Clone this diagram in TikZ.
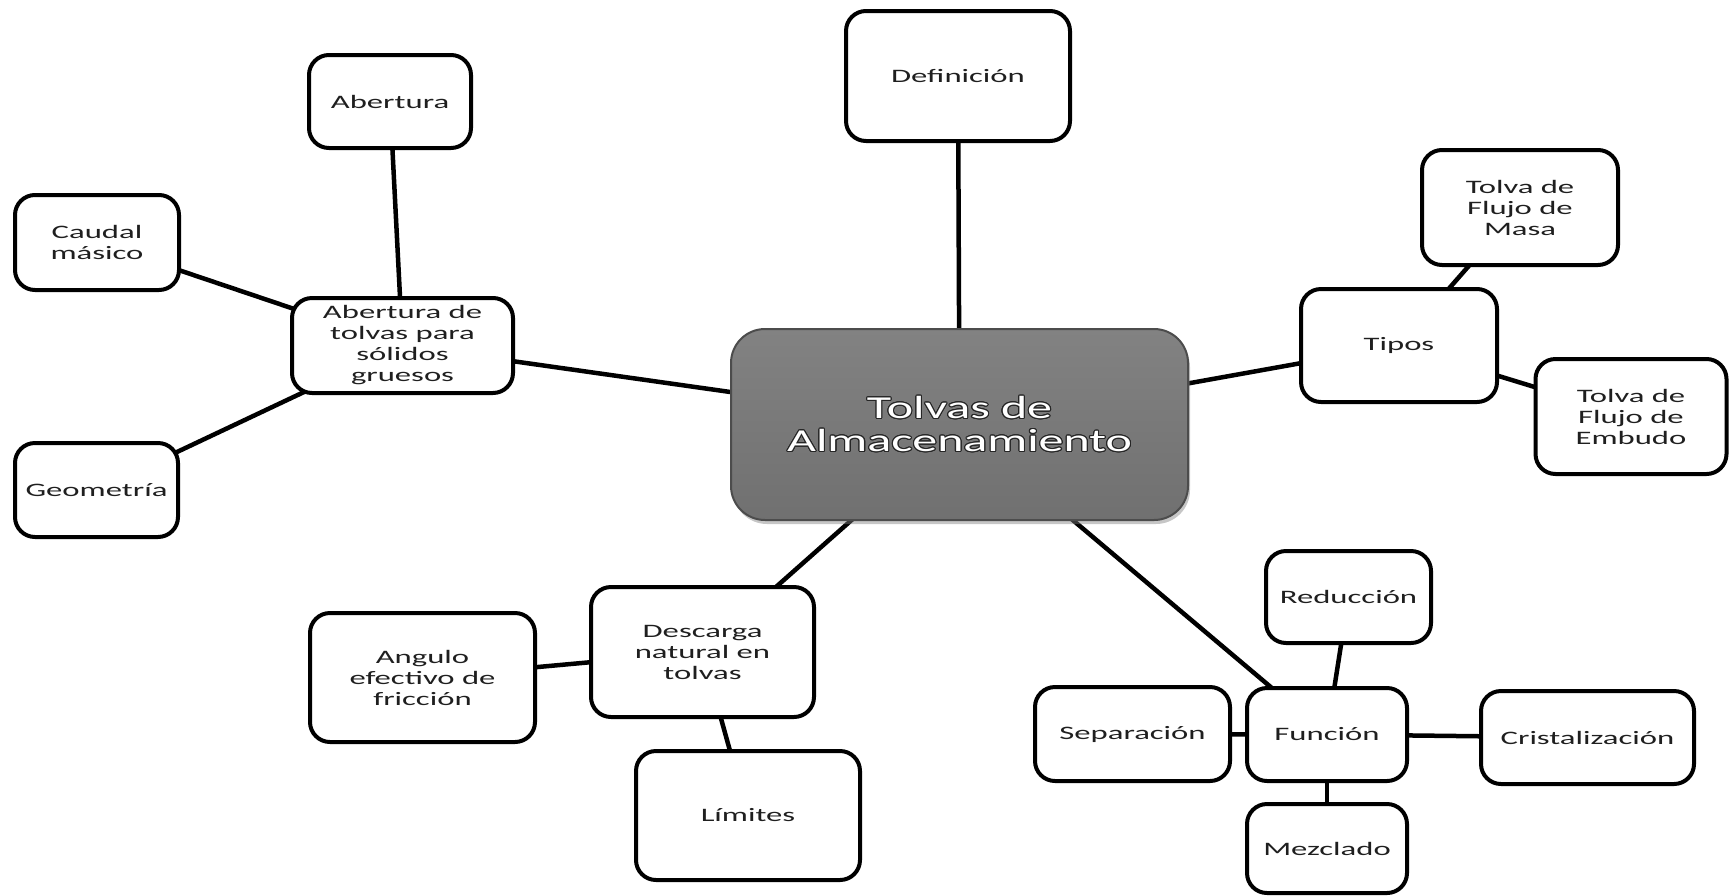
\documentclass[tikz,border=0pt]{standalone}
\usepackage{fontspec}
\setmainfont{Carlito}[FakeStretch=1.72]
\newfontfamily\titlefont{Carlito}[FakeStretch=1.56]
\usepackage[copies]{contour}
\contourlength{1.1pt}
\usetikzlibrary{shadows,backgrounds}

\tikzset{
  box/.style={draw=black, line width=4pt, fill=white, rounded corners=20pt,
    inner sep=0pt, align=center, text=black!88,
    font=\fontsize{19}{21}\selectfont},
  hub/.style={draw=black!70, line width=2pt, top color=black!49, bottom color=black!56,
    rounded corners=34pt, inner sep=0pt, align=center, text=white,
    font=\titlefont\fontsize{32}{33}\selectfont,
    drop shadow={opacity=0.45, shadow xshift=2pt, shadow yshift=-4pt}},
  link/.style={line width=4.5pt, draw=black}
}

\begin{document}
\begin{tikzpicture}[x=1pt, y=-1pt]
\useasboundingbox (0,0) rectangle (1729,895);

% central topic
\node[hub, minimum width=457pt, minimum height=191pt] (hub) at (959.5,424.5)
  {\contour{black!85}{Tolvas de}\\\contour{black!85}{Almacenamiento}};

% top branch
\node[box, minimum width=224pt, minimum height=130pt] (def) at (958,76) {Definición};

% left branch: opening of hoppers
\node[box, minimum width=221pt, minimum height=95pt] (abtol) at (402.5,345.5)
  {Abertura de\\tolvas para\\sólidos\\gruesos};
\node[box, minimum width=162pt, minimum height=93pt] (abert) at (390,101.5) {Abertura};
\node[box, minimum width=164pt, minimum height=95pt] (caudal) at (97,242.5) {Caudal\\másico};
\node[box, minimum width=163pt, minimum height=94pt] (geom) at (96.5,490) {Geometría};

% right branch: types
\node[box, minimum width=196pt, minimum height=113pt] (tipos) at (1399,345.5) {Tipos};
\node[box, minimum width=196pt, minimum height=115pt] (masa) at (1520,207.5) {Tolva de\\Flujo de\\Masa};
\node[box, minimum width=191pt, minimum height=115pt] (embudo) at (1631,416.5) {Tolva de\\Flujo de\\Embudo};

% lower left branch: discharge
\node[box, minimum width=223pt, minimum height=130pt] (desc) at (702.5,652) {Descarga\\natural en\\tolvas};
\node[box, minimum width=225pt, minimum height=129pt] (angulo) at (422.5,677.5) {Angulo\\efectivo de\\fricción};
\node[box, minimum width=224pt, minimum height=129pt] (lim) at (748,815.5) {Límites};

% lower right branch: function
\node[box, minimum width=160pt, minimum height=93pt] (func) at (1327,734.5) {Función};
\node[box, minimum width=165pt, minimum height=92pt] (red) at (1348.5,597) {Reducción};
\node[box, minimum width=195pt, minimum height=94pt] (sep) at (1132.5,734) {Separación};
\node[box, minimum width=213pt, minimum height=93pt] (crist) at (1587.5,737.5) {Cristalización};
\node[box, minimum width=160pt, minimum height=89pt] (mezc) at (1327,848.5) {Mezclado};

% connectors, kept behind the boxes
\begin{pgfonlayer}{background}
  \draw[link] (hub.center) -- (def.center);
  \draw[link] (hub.center) -- (abtol.center);
  \draw[link] (hub.center) -- (tipos.center);
  \draw[link] (hub.center) -- (desc.center);
  \draw[link] (hub.center) -- (func.center);
  \draw[link] (abtol.center) -- (abert.center);
  \draw[link] (abtol.center) -- (caudal.center);
  \draw[link] (abtol.center) -- (geom.center);
  \draw[link] (tipos.center) -- (masa.center);
  \draw[link] (tipos.center) -- (embudo.center);
  \draw[link] (desc.center) -- (angulo.center);
  \draw[link] (desc.center) -- (lim.center);
  \draw[link] (func.center) -- (red.center);
  \draw[link] (func.center) -- (sep.center);
  \draw[link] (func.center) -- (crist.center);
  \draw[link] (func.center) -- (mezc.center);
\end{pgfonlayer}
\end{tikzpicture}
\end{document}
